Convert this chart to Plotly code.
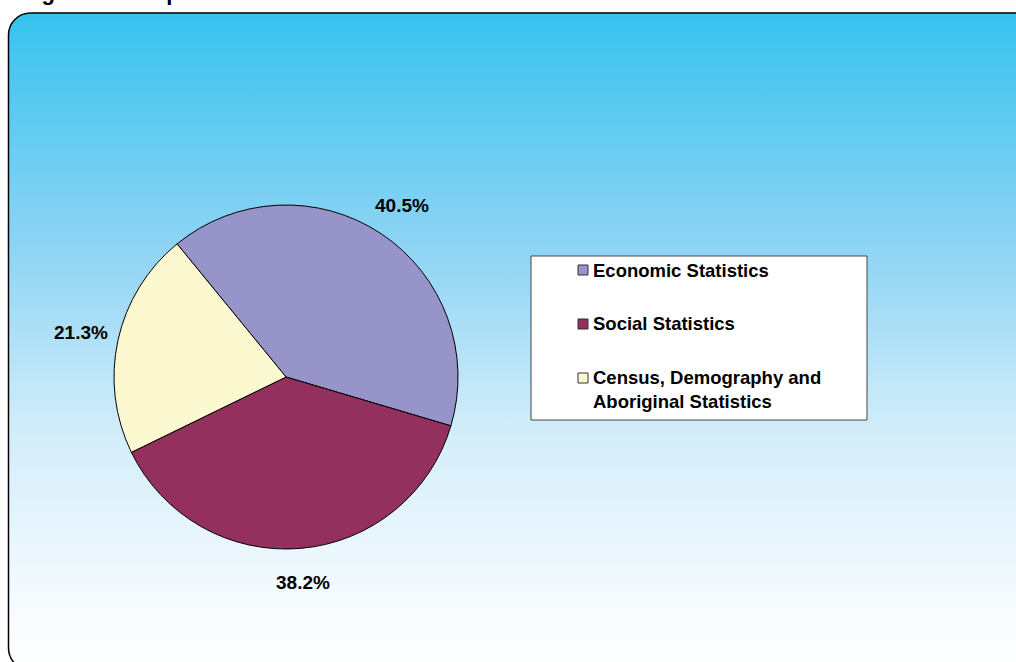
import base64
import math
import plotly.graph_objects as go

# ---- data ----
categories = ["Economic Statistics", "Social Statistics",
              "Census, Demography and Aboriginal Statistics"]
legend_labels = ["Economic Statistics", "Social Statistics",
                 "Census, Demography and<br>Aboriginal Statistics"]
shares = [40.5, 38.2, 21.3]
colors = ["#9694C9", "#93305E", "#FCF8CF"]
title_text = "Figure 1.1: Expenditure on Statistical Areas"

# ---- layout helpers ----
W, H = 1016, 662


def px(x):
    return x / W


def py(y):
    return 1 - y / H


cx, cy, r = 286, 377, 172
start_deg = -39.3
FONT = "Arial, 'Liberation Sans', sans-serif"

svg = f'''<svg xmlns="http://www.w3.org/2000/svg" width="{W}" height="{H}" viewBox="0 0 {W} {H}" preserveAspectRatio="none">
<defs><linearGradient id="g" x1="0" y1="0" x2="0" y2="1">
<stop offset="0" stop-color="#36C3EF"/>
<stop offset="0.36" stop-color="#8FD4F4"/>
<stop offset="0.635" stop-color="#D2EDFA"/>
<stop offset="0.9" stop-color="#F6FBFE"/>
<stop offset="1" stop-color="#FFFFFF"/>
</linearGradient></defs>
<rect x="8.5" y="13" width="1030" height="657" rx="22" ry="22" fill="url(#g)" stroke="#000" stroke-width="1.5"/>
</svg>'''
bg_src = "data:image/svg+xml;base64," + base64.b64encode(svg.encode()).decode()

fig = go.Figure()
fig.add_trace(go.Pie(
    labels=categories, values=shares,
    marker=dict(colors=colors, line=dict(color="black", width=1)),
    sort=False, direction="clockwise", rotation=start_deg,
    textinfo="none", showlegend=False,
    domain=dict(x=[px(cx - r), px(cx + r)], y=[py(cy + r), py(cy - r)]),
))

annotations = []
total = sum(shares)
cum = 0
for v in shares:
    mid = math.radians(start_deg + 360 * (cum + v / 2) / total)
    cum += v
    lx = cx + 1.22 * r * math.sin(mid)
    ly = cy - 1.2 * r * math.cos(mid)
    annotations.append(dict(
        x=px(lx), y=py(ly), xref="paper", yref="paper", showarrow=False,
        text=f"<b>{v:.1f}%</b>", font=dict(family=FONT, size=19, color="black"),
        xanchor="center", yanchor="middle"))

# legend box
shapes = [dict(type="rect", xref="paper", yref="paper",
               x0=px(531), x1=px(867), y0=py(420), y1=py(256),
               fillcolor="white", line=dict(color="#444444", width=1))]
row_y = [270, 324, 389]
for lab, col, yy in zip(legend_labels, colors, row_y):
    sq_y = yy if "<br>" not in lab else yy - 11
    shapes.append(dict(type="rect", xref="paper", yref="paper",
                       x0=px(578), x1=px(588), y0=py(sq_y + 5), y1=py(sq_y - 5),
                       fillcolor=col, line=dict(color="#333333", width=1)))
    annotations.append(dict(
        x=px(591), y=py(yy), xref="paper", yref="paper", showarrow=False,
        text=f"<b>{lab}</b>", align="left",
        font=dict(family=FONT, size=18.5, color="black"),
        xanchor="left", yanchor="middle"))

annotations.append(dict(
    x=px(20), y=py(7), xref="paper", yref="paper", showarrow=False,
    text=f"<b>{title_text}</b>", font=dict(family=FONT, size=22, color="black"),
    xanchor="left", yanchor="bottom"))

fig.update_layout(
    width=W, height=H, margin=dict(l=0, r=0, t=0, b=0),
    paper_bgcolor="white", plot_bgcolor="white",
    images=[dict(source=bg_src, xref="paper", yref="paper", x=0, y=1,
                 sizex=1, sizey=1, sizing="stretch", layer="below",
                 xanchor="left", yanchor="top")],
    shapes=shapes, annotations=annotations,
)

fig.write_html("out.html", config={"displayModeBar": False},
               post_script="document.body.style.margin='0';document.body.style.overflow='hidden';")
